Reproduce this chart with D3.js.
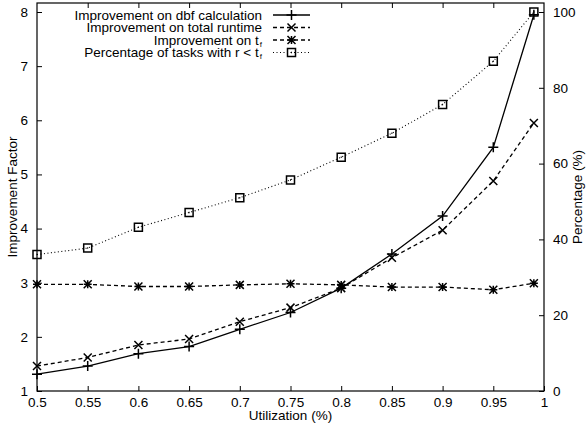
<!DOCTYPE html>
<html><head><meta charset="utf-8">
<script src="https://cdn.jsdelivr.net/npm/d3@7"></script>
<style>body{margin:0;background:#fff}svg{display:block}text{font-family:"Liberation Sans",Arial,Helvetica,sans-serif;}</style>
</head><body><svg id="c" width="586" height="429"></svg>
<script>
const utilization = [0.5, 0.55, 0.6, 0.65, 0.7, 0.75, 0.8, 0.85, 0.9, 0.95, 0.99];
const dbfImprovement = [1.31, 1.46, 1.69, 1.82, 2.14, 2.45, 2.9, 3.53, 4.23, 5.5, 7.95];
const runtimeImprovement = [1.46, 1.62, 1.85, 1.96, 2.28, 2.54, 2.9, 3.46, 3.97, 4.88, 5.95];
const tfImprovement = [2.97, 2.97, 2.93, 2.93, 2.96, 2.98, 2.96, 2.92, 2.92, 2.87, 2.99];
const percentageTasks = [36.0, 37.7, 43.2, 47.1, 51.0, 55.7, 61.7, 68.0, 75.6, 87.0, 100];
const xTicks = [0.5, 0.55, 0.6, 0.65, 0.7, 0.75, 0.8, 0.85, 0.9, 0.95, 1];
const yTicks = [1, 2, 3, 4, 5, 6, 7, 8];
const y2Ticks = [0, 20, 40, 60, 80, 100];
const legendLabels = ["Improvement on dbf calculation", "Improvement on total runtime", "Improvement on t", "Percentage of tasks with r < t"];

const svg = d3.select("#c");
const L = 37, R = 544, T = 3, B = 391;
const x = d3.scaleLinear().domain([0.5, 1]).range([L, R]);
const y = d3.scaleLinear().domain([1, 8]).range([B, 12]);
const y2 = d3.scaleLinear().domain([0, 100]).range([B, 12]);
const fs = "13.5px";

function styleAxis(g) {
  g.select(".domain").remove();
  g.selectAll(".tick line").attr("stroke", "#000").attr("stroke-width", 1);
  g.selectAll(".tick text").attr("fill", "#000").style("font-size", fs).style("font-family", '"Liberation Sans",Arial,sans-serif');
}
svg.append("g").attr("transform", `translate(0,${B})`)
  .call(d3.axisBottom(x).tickValues(xTicks).tickFormat(d3.format("")).tickSizeInner(-5).tickSizeOuter(0).tickPadding(6))
  .call(styleAxis);
svg.append("g").attr("transform", `translate(0,${T})`)
  .call(d3.axisTop(x).tickValues(xTicks.slice(1, -1)).tickFormat("").tickSizeInner(-5).tickSizeOuter(0))
  .call(styleAxis);
svg.append("g").attr("transform", `translate(${L},0)`)
  .call(d3.axisLeft(y).tickValues(yTicks).tickFormat(d3.format("d")).tickSizeInner(-5).tickSizeOuter(0).tickPadding(9))
  .call(styleAxis);
svg.append("g").attr("transform", `translate(${R},0)`)
  .call(d3.axisRight(y2).tickValues(y2Ticks).tickFormat(d3.format("d")).tickSizeInner(-5).tickSizeOuter(0).tickPadding(9))
  .call(styleAxis);

svg.append("rect").attr("x", L).attr("y", T).attr("width", R - L).attr("height", B - T)
  .attr("fill", "none").attr("stroke", "#000").attr("stroke-width", 1.2);

svg.append("text").attr("x", (L + R) / 2).attr("y", 420).attr("text-anchor", "middle").style("font-size", fs).text("Utilization (%)");
svg.append("text").attr("transform", `translate(17,${(T + B) / 2}) rotate(-90)`).attr("text-anchor", "middle").style("font-size", fs).text("Improvement Factor");
svg.append("text").attr("transform", `translate(582,${(T + B) / 2}) rotate(-90)`).attr("text-anchor", "middle").style("font-size", fs).text("Percentage (%)");

const plusSym = {draw(c, s) { const r = Math.sqrt(s) / 2; c.moveTo(-r, 0); c.lineTo(r, 0); c.moveTo(0, -r); c.lineTo(0, r); }};
const xSym = {draw(c, s) { const r = Math.sqrt(s) / 2; c.moveTo(-r, -r); c.lineTo(r, r); c.moveTo(-r, r); c.lineTo(r, -r); }};
const starSym = {draw(c, s) { const r = Math.sqrt(s) / 2; c.moveTo(-r, 0); c.lineTo(r, 0); c.moveTo(0, -r); c.lineTo(0, r); c.moveTo(-r, -r); c.lineTo(r, r); c.moveTo(-r, r); c.lineTo(r, -r); }};
const boxSym = {draw(c, s) { const r = Math.sqrt(s) / 2; c.moveTo(-r, -r); c.lineTo(r, -r); c.lineTo(r, r); c.lineTo(-r, r); c.closePath(); c.moveTo(-0.5, 0); c.lineTo(0.5, 0); }};

const series = [
  {vals: dbfImprovement, sc: y, dash: null, sym: plusSym, size: 100, sw: 1.3},
  {vals: runtimeImprovement, sc: y, dash: "4,3", sym: xSym, size: 64, sw: 1.3},
  {vals: tfImprovement, sc: y, dash: "4,3", sym: starSym, size: 64, sw: 1.3},
  {vals: percentageTasks, sc: y2, dash: "1,2.5", sym: boxSym, size: 64, sw: 1.1}
];

series.forEach(s => {
  const line = d3.line().x((d, i) => x(utilization[i])).y(d => s.sc(d));
  svg.append("path").datum(s.vals).attr("d", line).attr("fill", "none").attr("stroke", "#000")
    .attr("stroke-width", s.sw).attr("stroke-dasharray", s.dash);
  svg.append("g").selectAll("path").data(s.vals).join("path")
    .attr("transform", (d, i) => `translate(${x(utilization[i])},${s.sc(d)})`)
    .attr("d", d3.symbol(s.sym, s.size)).attr("fill", "none").attr("stroke", "#000").attr("stroke-width", 1.5);
});

const legY = [15, 27.5, 40, 52.5];
legendLabels.forEach((lab, i) => {
  const t = svg.append("text").attr("x", 262).attr("y", legY[i] + 4.5).attr("text-anchor", "end").style("font-size", fs);
  t.append("tspan").text(lab);
  if (i >= 2) t.append("tspan").attr("dx", 1).attr("dy", 2).style("font-size", "8px").text("f");
  const s = series[i];
  svg.append("line").attr("x1", 273).attr("x2", 310).attr("y1", legY[i]).attr("y2", legY[i])
    .attr("stroke", "#000").attr("stroke-width", s.sw).attr("stroke-dasharray", s.dash);
  svg.append("path").attr("transform", `translate(291.5,${legY[i]})`).attr("d", d3.symbol(s.sym, s.size))
    .attr("fill", "none").attr("stroke", "#000").attr("stroke-width", 1.5);
});
</script></body></html>
